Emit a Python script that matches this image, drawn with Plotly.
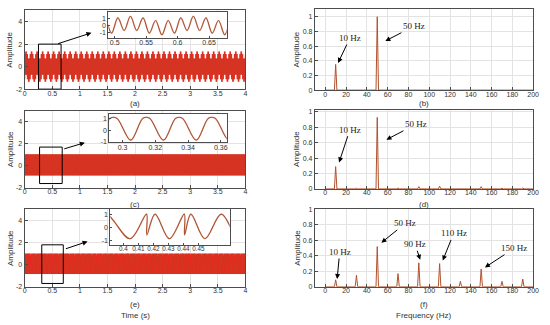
import numpy as np
import plotly.graph_objects as go

W, H = 550, 325

# ---------------- data ----------------
# time-domain waveform keypoints (extrema / jumps) for one repeating period
a_period = 0.1
a_t = [0.005, 0.015, 0.025, 0.035, 0.045, 0.055, 0.065, 0.075, 0.085, 0.095]
a_v = [1.11, -0.72, 1.35, -0.72, 1.11, -1.11, 0.72, -1.35, 0.72, -1.11]

c_period = 0.02
c_t = [0.005, 0.0125, 0.0165]
c_v = [-0.87, 1.05, 1.05]

e_period = 0.1
e_t = [0.388, 0.4044, 0.4154, 0.4156, 0.4211, 0.4307, 0.4406, 0.4408, 0.4450, 0.4544, 0.4654, 0.4770]
e_v = [1.0, -0.85, 1.0, -0.56, 1.0, -0.85, 1.0, -0.56, 1.0, -0.85, 1.0, -0.85]

t_end = 4.0

# spectra (peak frequency, amplitude)
b_f = [10, 50]
b_a = [0.35, 1.0]
d_f = [10, 30, 50, 70, 90, 110, 130, 150, 170, 190]
d_a = [0.29, 0.01, 0.93, 0.012, 0.03, 0.035, 0.006, 0.03, 0.01, 0.012]
f_f = [10, 30, 50, 70, 90, 110, 130, 150, 170, 190]
f_a = [0.09, 0.15, 0.52, 0.17, 0.31, 0.30, 0.07, 0.23, 0.07, 0.10]

time_ticks = [0, 0.5, 1, 1.5, 2, 2.5, 3, 3.5, 4]
time_ticklabels = ["0", "0.5", "1", "1.5", "2", "2.5", "3", "3.5", "4"]
amp_ticks = [-2, 0, 2, 4]
freq_ticks = list(range(0, 201, 20))
spec_ticks = [0, 0.2, 0.4, 0.6, 0.8, 1]
spec_ticklabels = ["0", "0.2", "0.4", "0.6", "0.8", "1"]

RED = "#ff1a1a"
BROWN = "#a5552f"
SPEC = "#b0522c"
AX = "#4d4d4d"
GRID = "#e3e3e3"
TICKF = dict(family="Liberation Sans, Arial", size=7, color="#333333")


def tile(pt, pv, period, start, end):
    pt = np.asarray(pt)
    pv = np.asarray(pv)
    base = pt.min()
    ts, vs = [], []
    k0 = int(np.floor((start - base) / period)) - 1
    k1 = int(np.ceil((end - base) / period)) + 1
    for k in range(k0, k1):
        ts.append(pt + k * period)
        vs.append(pv)
    ts = np.concatenate(ts)
    vs = np.concatenate(vs)
    m = (ts >= start - period) & (ts <= end + period)
    return ts[m], vs[m]


def spectrum(freqs, amps, half=1.2):
    xs, ys = [0.0], [0.0]
    for fq, am in zip(freqs, amps):
        xs += [fq - half, fq, fq + half]
        ys += [0.0, am, 0.0]
    xs.append(200.0)
    ys.append(0.0)
    return xs, ys


def ydom(top, bot):
    return [1 - bot / H, 1 - top / H]


def xdom(l, r):
    return [l / W, r / W]


fig = go.Figure()

left_x = xdom(23, 247)
left_rows = [(6.5, 87), (109, 188), (210, 289)]
right_x = xdom(317.5, 539)
right_rows = [(5.5, 88), (108, 189), (210, 289)]

signals = [(a_t, a_v, a_period), (c_t, c_v, c_period), (e_t, e_v, e_period)]
for i, (pt, pv, per) in enumerate(signals):
    ax_id = "" if i == 0 else str(i + 1)
    ts, vs = tile(pt, pv, per, 0, t_end)
    fig.add_trace(go.Scatter(x=ts, y=vs, mode="lines", line=dict(color=RED, width=1.6),
                             xaxis="x" + ax_id, yaxis="y" + ax_id, showlegend=False, hoverinfo="skip"))
    fig.add_trace(go.Scatter(x=ts, y=vs, mode="lines", line=dict(color=BROWN, width=0.6),
                             opacity=0.6, xaxis="x" + ax_id, yaxis="y" + ax_id, showlegend=False,
                             hoverinfo="skip"))

for i, (fr, am) in enumerate([(b_f, b_a), (d_f, d_a), (f_f, f_a)]):
    ax_id = str(i + 4)
    xs, ys = spectrum(fr, am)
    fig.add_trace(go.Scatter(x=xs, y=ys, mode="lines", line=dict(color=SPEC, width=1),
                             xaxis="x" + ax_id, yaxis="y" + ax_id, showlegend=False, hoverinfo="skip"))

inset_specs = [
    (0, 108, 228, 7.7, 34.3, [0.49, 0.678], [-1.76, 2.04], [0.5, 0.55, 0.6, 0.65], ["0.5", "0.55", "0.6", "0.65"], 7),
    (1, 109, 228, 112, 141.5, [0.292, 0.3636], [-1.07, 1.45], [0.3, 0.32, 0.34, 0.36], ["0.3", "0.32", "0.34", "0.36"], 7),
    (2, 110, 231, 210, 246, [0.3913, 0.4709], [-1.3, 1.35], [0.4, 0.41, 0.42, 0.43, 0.44, 0.45],
     ["0.4", "0.41", "0.42", "0.43", "0.44", "0.45"], 6.3),
]
for j, (si, l, r, tp, bt, xr, yr, xt, xtl, fs) in enumerate(inset_specs):
    ax_id = str(j + 7)
    pt, pv, per = signals[si]
    # white backing so the main grid does not show through the inset
    fig.add_trace(go.Scatter(x=[xr[0], xr[1], xr[1], xr[0], xr[0]], y=[yr[0], yr[0], yr[1], yr[1], yr[0]],
                             mode="none", fill="toself", fillcolor="white", xaxis="x" + ax_id, yaxis="y" + ax_id,
                             showlegend=False, hoverinfo="skip"))
    ts, vs = tile(pt, pv, per, xr[0] - 0.03, xr[1] + 0.03)
    fig.add_trace(go.Scatter(x=ts, y=vs, mode="lines",
                             line=dict(color="#ff9a9a", width=1.6, shape="spline", smoothing=1.0),
                             opacity=0.5, xaxis="x" + ax_id, yaxis="y" + ax_id, showlegend=False, hoverinfo="skip"))
    fig.add_trace(go.Scatter(x=ts, y=vs, mode="lines",
                             line=dict(color=BROWN, width=1.1, shape="spline", smoothing=1.0),
                             xaxis="x" + ax_id, yaxis="y" + ax_id, showlegend=False, hoverinfo="skip"))
    xf = dict(TICKF, size=fs)
    fig.layout["xaxis" + ax_id] = dict(domain=xdom(l, r), range=xr, anchor="y" + ax_id, tickvals=xt, ticktext=xtl,
                                       showgrid=False, zeroline=False, showline=True, mirror=True, linecolor=AX,
                                       linewidth=1, ticks="inside", ticklen=2, tickcolor=AX, tickfont=xf,
                                       tickangle=0, ticklabelstandoff=-2)
    fig.layout["yaxis" + ax_id] = dict(domain=ydom(tp, bt), range=yr, anchor="x" + ax_id, tickvals=[-1, 0, 1],
                                       ticktext=["-1", "0", "1"], showgrid=False, zeroline=False, showline=True,
                                       mirror=True, linecolor=AX, linewidth=1, ticks="inside", ticklen=2,
                                       tickcolor=AX, tickfont=TICKF)

common = dict(showgrid=True, gridcolor=GRID, gridwidth=1, zeroline=False, showline=True, mirror=True,
              linecolor=AX, linewidth=1, ticks="inside", ticklen=3, tickcolor=AX, tickfont=TICKF, tickangle=0)

for i, (tp, bt) in enumerate(left_rows):
    ax_id = "" if i == 0 else str(i + 1)
    fig.layout["xaxis" + ax_id] = dict(domain=left_x, range=[0, 4], anchor="y" + ax_id, tickvals=time_ticks,
                                       ticktext=time_ticklabels, ticklabelstandoff=-3, **common)
    fig.layout["yaxis" + ax_id] = dict(domain=ydom(tp, bt), range=[-2, 5], anchor="x" + ax_id, tickvals=amp_ticks,
                                       ticktext=[str(v) for v in amp_ticks], **common)

right_yr = [[0, 1.1], [0, 1.03], [0, 1.0]]
for i, (tp, bt) in enumerate(right_rows):
    ax_id = str(i + 4)
    fig.layout["xaxis" + ax_id] = dict(domain=right_x, range=[-10, 200], anchor="y" + ax_id, tickvals=freq_ticks,
                                       ticktext=[str(v) for v in freq_ticks], ticklabelstandoff=-3, **common)
    fig.layout["yaxis" + ax_id] = dict(domain=ydom(tp, bt), range=right_yr[i], anchor="x" + ax_id,
                                       tickvals=spec_ticks, ticktext=spec_ticklabels, **common)

rects = [("", 0.25, 0.66, -2.0, 2.0, 0.58, 2.0, 1.21, 3.0),
         ("2", 0.27, 0.68, -1.6, 1.7, 0.69, 1.5, 1.09, 2.1),
         ("3", 0.31, 0.70, -1.7, 1.8, 0.72, 1.4, 1.14, 2.1)]
for ax_id, x0, x1, y0, y1, axx, ayy, tx, ty in rects:
    fig.add_shape(type="rect", xref="x" + ax_id, yref="y" + ax_id, x0=x0, x1=x1, y0=y0, y1=y1,
                  line=dict(color="black", width=1), layer="above")
    fig.add_annotation(xref="x" + ax_id, yref="y" + ax_id, axref="x" + ax_id, ayref="y" + ax_id,
                       x=tx, y=ty, ax=axx, ay=ayy, text="", showarrow=True, arrowhead=2, arrowsize=1,
                       arrowwidth=1, arrowcolor="black")

SERIF = dict(family="Liberation Serif, Times New Roman", size=9, color="#222222")
peak_labels = [
    ("4", "10 Hz", 12.3, 0.37, 23.7, 0.71),
    ("4", "50 Hz", 57.8, 0.67, 85.3, 0.87),
    ("5", "10 Hz", 13.3, 0.345, 23.7, 0.77),
    ("5", "50 Hz", 58.8, 0.64, 87.2, 0.84),
    ("6", "10 Hz", 11.4, 0.10, 13.9, 0.45),
    ("6", "50 Hz", 54.0, 0.57, 77.0, 0.82),
    ("6", "90 Hz", 91.3, 0.35, 86.5, 0.55),
    ("6", "110 Hz", 113.0, 0.34, 123.5, 0.69),
    ("6", "150 Hz", 153.6, 0.25, 182.0, 0.50),
]
for ax_id, txt, x, y, axx, ayy in peak_labels:
    fig.add_annotation(xref="x" + ax_id, yref="y" + ax_id, axref="x" + ax_id, ayref="y" + ax_id,
                       x=x, y=y, ax=axx, ay=ayy, text=txt, showarrow=True, arrowhead=2, arrowsize=1,
                       arrowwidth=1, arrowcolor="black", font=SERIF, standoff=0)

LBL = dict(family="Liberation Sans, Arial", size=8, color="#333333")
caps = [("(a)", 135, 102), ("(c)", 135, 205), ("(e)", 135, 307), ("Time (s)", 135, 318),
        ("(b)", 428, 102), ("(d)", 428, 205), ("(f)", 428, 307), ("Frequency (Hz)", 428, 318)]
for txt, px, py in caps:
    fig.add_annotation(xref="paper", yref="paper", x=px / W, y=1 - py / H, text=txt, showarrow=False,
                       font=LBL, xanchor="center", yanchor="middle")
for px, rows in [(8, left_rows), (299, right_rows)]:
    for tp, bt in rows:
        fig.add_annotation(xref="paper", yref="paper", x=px / W, y=1 - (tp + bt) / 2 / H, text="Amplitude",
                           textangle=-90, showarrow=False, font=LBL, xanchor="center", yanchor="middle")

fig.update_layout(width=W, height=H, autosize=False, margin=dict(l=0, r=0, t=0, b=0),
                  paper_bgcolor="white", plot_bgcolor="white", showlegend=False)

fig.write_html("out.html", config={"displayModeBar": False},
               post_script="document.body.style.margin='0';document.body.style.overflow='hidden';")
